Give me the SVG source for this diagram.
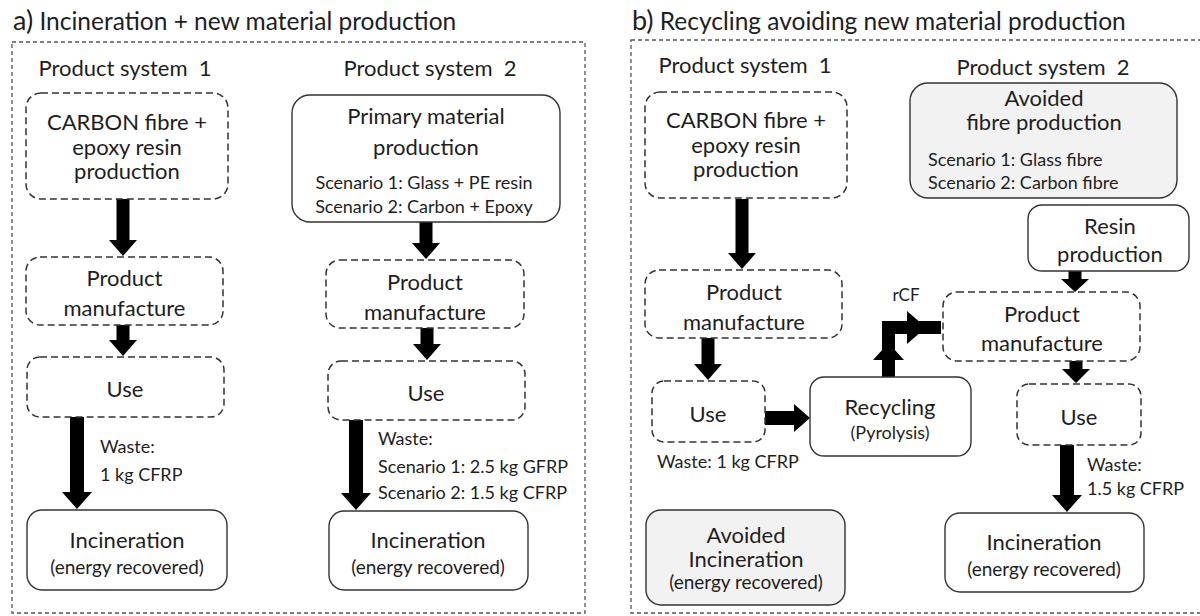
<svg xmlns="http://www.w3.org/2000/svg" width="1200" height="616" viewBox="0 0 1200 616">
<style>
text{font-family:Lato,"Liberation Sans",sans-serif;fill:#1e1e1e;}
.t{font-size:24.5px;}
.ps{font-size:22px;text-anchor:middle;white-space:pre;}
.l{font-size:22px;text-anchor:middle;}
.s{font-size:18px;}
.sm{font-size:18px;text-anchor:middle;}
.e{font-size:19px;text-anchor:middle;}
.frame{fill:none;stroke:#555;stroke-width:1.3;stroke-dasharray:4 3;}
.dash{fill:#fff;stroke:#333;stroke-width:1.5;stroke-dasharray:7 4;}
.solid{fill:#fff;stroke:#333;stroke-width:1.4;}
.grey{fill:#f2f2f2;stroke:#333;stroke-width:1.4;}
.arr{fill:#000;stroke:none;}
</style>
<rect width="1200" height="616" fill="#fff"/>
<g id="panel-a">
<text class="t" x="13" y="30"><tspan font-size="27">a)</tspan> Incineration + new material production</text>
<rect class="frame" x="12" y="42" width="573" height="571"/>
<text class="ps" x="125" y="76">Product system  1</text>
<text class="ps" x="430" y="76">Product system  2</text>
</g>
<g id="panel-b">
<text class="t" x="632" y="30"><tspan font-size="27">b)</tspan> Recycling avoiding new material production</text>
<rect class="frame" x="631" y="40" width="590" height="573"/>
<text class="ps" x="745" y="73">Product system  1</text>
<text class="ps" x="1043" y="75">Product system  2</text>
</g>
<g id="connectors">
<path class="arr" d="M116.5 199H129.5V240H137L123 256L109 240H116.5Z"/>
<path class="arr" d="M116.5 325H129.5V340H137L123 356L109 340H116.5Z"/>
<path class="arr" d="M70 417H84V492H92L77 509L62 492H70Z"/>
<path class="arr" d="M419.5 222H432.5V243H440L426 259L412 243H419.5Z"/>
<path class="arr" d="M420.5 328H433.5V344H441L427 360L413 344H420.5Z"/>
<path class="arr" d="M349 420H363V493H371L356 510L341 493H349Z"/>
<path class="arr" d="M735.5 199H748.5V253H756L742 269L728 253H735.5Z"/>
<path class="arr" d="M701.5 338H714.5V364H722L708 380L694 364H701.5Z"/>
<path class="arr" d="M765 411H794V404L810 418L794 432V425H765Z"/>
<path class="arr" d="M882 377V321H941V334H895V377Z"/>
<path class="arr" d="M873 360L888.5 343L904 360Z"/>
<path class="arr" d="M907 311L926 327.5L907 344Z"/>
<path class="arr" d="M1068.5 271H1081.5V279H1089L1075 292L1061 279H1068.5Z"/>
<path class="arr" d="M1069.5 361H1082.5V369H1090L1076 383L1062 369H1069.5Z"/>
<path class="arr" d="M1060 445H1074V495H1082L1067 512L1052 495H1060Z"/>
</g>
<g id="a1-carbon">
<rect class="dash" x="26" y="93" width="202" height="106" rx="15"/>
<text class="l" x="127" y="130">CARBON fibre +</text>
<text class="l" x="127" y="155">epoxy resin</text>
<text class="l" x="127" y="179">production</text>
</g>
<g id="a1-manufacture">
<rect class="dash" x="26" y="257" width="197" height="68" rx="14"/>
<text class="l" x="124.5" y="286">Product</text>
<text class="l" x="124.5" y="316">manufacture</text>
</g>
<g id="a1-use">
<rect class="dash" x="27" y="357" width="197" height="60" rx="13"/>
<text class="l" x="125" y="397">Use</text>
</g>
<g id="a1-waste">
<text class="s" x="100" y="453">Waste:</text>
<text class="s" x="100" y="481">1 kg CFRP</text>
</g>
<g id="a1-incineration">
<rect class="solid" x="27" y="510" width="200" height="80" rx="15"/>
<text class="l" x="127" y="548">Incineration</text>
<text class="e" x="127" y="574">(energy recovered)</text>
</g>
<g id="a2-primary">
<rect class="solid" x="292" y="95" width="268" height="127" rx="18"/>
<text class="l" x="426" y="124">Primary material</text>
<text class="l" x="426" y="155">production</text>
<text class="sm" x="424" y="189">Scenario 1: Glass + PE resin</text>
<text class="sm" x="424" y="213">Scenario 2: Carbon + Epoxy</text>
</g>
<g id="a2-manufacture">
<rect class="dash" x="326" y="260" width="198" height="68" rx="14"/>
<text class="l" x="425" y="290">Product</text>
<text class="l" x="425" y="320">manufacture</text>
</g>
<g id="a2-use">
<rect class="dash" x="328" y="361" width="197" height="59" rx="13"/>
<text class="l" x="426" y="401">Use</text>
</g>
<g id="a2-waste">
<text class="s" x="378" y="445">Waste:</text>
<text class="s" x="378" y="473">Scenario 1: 2.5 kg GFRP</text>
<text class="s" x="378" y="499">Scenario 2: 1.5 kg CFRP</text>
</g>
<g id="a2-incineration">
<rect class="solid" x="329" y="511" width="199" height="79" rx="15"/>
<text class="l" x="428" y="548">Incineration</text>
<text class="e" x="428" y="574">(energy recovered)</text>
</g>
<g id="b1-carbon">
<rect class="dash" x="645" y="92" width="202" height="106" rx="15"/>
<text class="l" x="746" y="128">CARBON fibre +</text>
<text class="l" x="746" y="153">epoxy resin</text>
<text class="l" x="746" y="177">production</text>
</g>
<g id="b1-manufacture">
<rect class="dash" x="645" y="270" width="197" height="68" rx="14"/>
<text class="l" x="744" y="300">Product</text>
<text class="l" x="744" y="330">manufacture</text>
</g>
<g id="b1-use">
<rect class="dash" x="652" y="381" width="113" height="61" rx="12"/>
<text class="l" x="708" y="422">Use</text>
</g>
<g id="b1-waste">
<text class="s" x="657" y="468">Waste: 1 kg CFRP</text>
</g>
<g id="b-recycling">
<rect class="solid" x="810" y="377" width="161" height="79" rx="14"/>
<text class="l" x="890" y="415">Recycling</text>
<text class="sm" x="890" y="439">(Pyrolysis)</text>
</g>
<g id="b-rcf">
<text font-size="17" text-anchor="middle" x="906" y="301">rCF</text>
</g>
<g id="b1-avoided-incineration">
<rect class="grey" x="646" y="510" width="199" height="95" rx="15"/>
<text class="l" x="746" y="543">Avoided</text>
<text class="l" x="746" y="567">Incineration</text>
<text class="e" x="746" y="589">(energy recovered)</text>
</g>
<g id="b2-avoided-fibre">
<rect class="grey" x="910" y="83" width="267" height="115" rx="18"/>
<text class="l" x="1044" y="106">Avoided</text>
<text class="l" x="1044" y="130">fibre production</text>
<text class="s" x="928" y="166">Scenario 1: Glass fibre</text>
<text class="s" x="928" y="189">Scenario 2: Carbon fibre</text>
</g>
<g id="b2-resin">
<rect class="solid" x="1028" y="205" width="161" height="66" rx="14"/>
<text class="l" x="1110" y="234">Resin</text>
<text class="l" x="1110" y="262">production</text>
</g>
<g id="b2-manufacture">
<rect class="dash" x="943" y="292" width="197" height="69" rx="14"/>
<text class="l" x="1042" y="322">Product</text>
<text class="l" x="1042" y="351">manufacture</text>
</g>
<g id="b2-use">
<rect class="dash" x="1017" y="384" width="124" height="61" rx="12"/>
<text class="l" x="1079" y="425">Use</text>
</g>
<g id="b2-waste">
<text class="s" x="1087" y="471">Waste:</text>
<text class="s" x="1087" y="495">1.5 kg CFRP</text>
</g>
<g id="b2-incineration">
<rect class="solid" x="945" y="513" width="199" height="79" rx="15"/>
<text class="l" x="1044" y="550">Incineration</text>
<text class="e" x="1044" y="576">(energy recovered)</text>
</g>
</svg>
